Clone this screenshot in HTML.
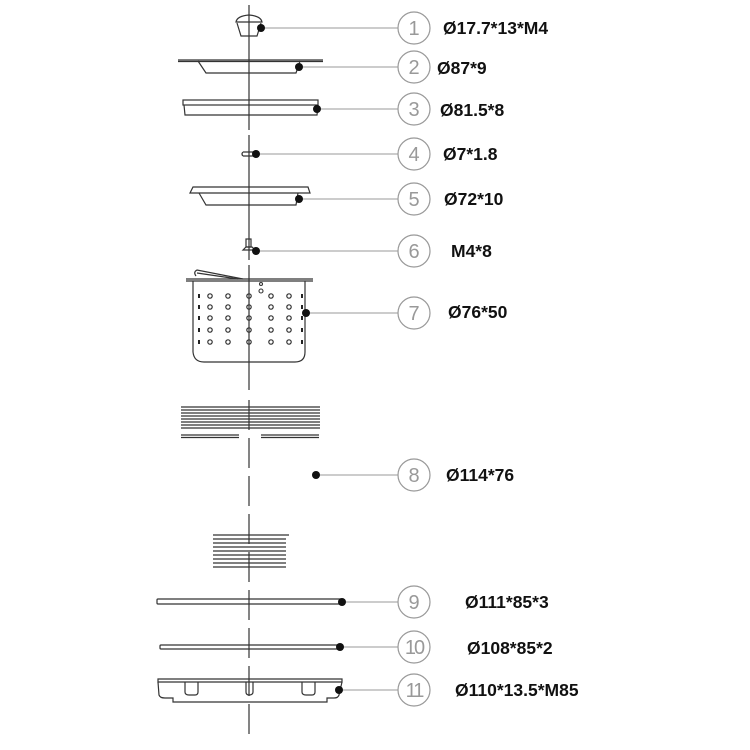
<!DOCTYPE html>
<html><head><meta charset="utf-8"><style>
html,body{margin:0;padding:0;background:#fff;}
svg{display:block;}
text{font-family:"Liberation Sans",Arial,sans-serif;font-weight:bold;font-size:17.5px;fill:#111;}
.n{font-family:"Liberation Sans",sans-serif;font-weight:normal;font-size:20px;fill:#999;}
</style></head><body>
<svg width="750" height="750" viewBox="0 0 750 750" xmlns="http://www.w3.org/2000/svg">
<g stroke="#333" stroke-width="1.2" fill="none">
<!-- center line -->
<line x1="249" y1="5" x2="249" y2="392" stroke-dasharray="125,5"/>
<line x1="249" y1="400" x2="249" y2="740" stroke-dasharray="30,8"/>
<!-- 1 -->
<path d="M236,22 Q237,16 249,15 Q261,16 262,22 Z"/>
<path d="M237,23 L241,36 L257,36 L261,23"/>
<!-- 2 -->
<line x1="178" y1="60" x2="323" y2="60"/>
<line x1="178" y1="61.5" x2="323" y2="61.5"/>
<path d="M198,61 L206,73 L296,73 L300,61"/>
<!-- 3 -->
<rect x="183" y="100" width="135" height="5"/>
<path d="M184,105 L185,115 L317,115 L318,105"/>
<!-- 4 -->
<path d="M243,152 L255,152 M243,156 L255,156 M243,152 Q241,154 243,156"/>
<!-- 5 -->
<path d="M190,193 L193,187 L308,187 L310,193 Z"/>
<path d="M199,193 L206,205 L296,205 L298,193"/>
<!-- 6 -->
<rect x="246" y="239" width="5" height="8"/>
<path d="M243,250 L246,247 L252,247 L255,250 Z"/>
<!-- 7 -->
<path d="M196,276 Q193,272 197,270 L243,279" />
<path d="M197,273 L238,279"/>
<line x1="186" y1="279" x2="313" y2="279"/>
<line x1="186" y1="281" x2="313" y2="281"/>
<path d="M193,281 L193,352 Q194,362 204,362 L295,362 Q305,362 305,352 L305,281"/>
<!-- 8 lines -->
<path d="M181,407H320M181,410H320M181,413H320M181,416H320M181,419H320M181,422H320M181,425H320M181,428H320M181,435H239M261,435H319M181,437.5H239M261,437.5H319"/>
<path d="M213,535H289M213,539H286M213,543H286M213,547H286M213,551H286M213,555H286M213,559H286M213,563H286M213,567H286"/>
<!-- 9 -->
<rect x="157" y="599" width="185" height="5" rx="1"/>
<!-- 10 -->
<rect x="160" y="645" width="180" height="4" rx="1"/>
<!-- 11 -->
<path d="M158,682 L158,679 L342,679 L342,682 Z"/>
<path d="M158,682 L159,695 Q160,698 165,698 L173,698 L173,702 L327,702 L327,698 L334,698 Q338,698 339,695 L342,682"/>
<path d="M185,682 L185,692 Q185,695 189,695 L195,695 Q198,695 198,692 L198,682"/>
<path d="M246,682 L246,692 Q246,695 249,695 Q253,695 253,692 L253,682"/>
<path d="M302,682 L302,692 Q302,695 306,695 L312,695 Q315,695 315,692 L315,682"/>
</g>
<!-- holes -->
<g stroke="#333" stroke-width="1.1" fill="none">
<circle cx="261" cy="284" r="1.5"/><circle cx="261" cy="291" r="2"/>
</g>
<g stroke="#333" stroke-width="1.2" fill="none">
<g transform="translate(0,296)"><circle cx="210" cy="0" r="2.2"/><circle cx="228" cy="0" r="2.2"/><circle cx="249" cy="0" r="2.2"/><circle cx="271" cy="0" r="2.2"/><circle cx="289" cy="0" r="2.2"/></g>
<g transform="translate(0,307)"><circle cx="210" cy="0" r="2.2"/><circle cx="228" cy="0" r="2.2"/><circle cx="249" cy="0" r="2.2"/><circle cx="271" cy="0" r="2.2"/><circle cx="289" cy="0" r="2.2"/></g>
<g transform="translate(0,318)"><circle cx="210" cy="0" r="2.2"/><circle cx="228" cy="0" r="2.2"/><circle cx="249" cy="0" r="2.2"/><circle cx="271" cy="0" r="2.2"/><circle cx="289" cy="0" r="2.2"/></g>
<g transform="translate(0,330)"><circle cx="210" cy="0" r="2.2"/><circle cx="228" cy="0" r="2.2"/><circle cx="249" cy="0" r="2.2"/><circle cx="271" cy="0" r="2.2"/><circle cx="289" cy="0" r="2.2"/></g>
<g transform="translate(0,342)"><circle cx="210" cy="0" r="2.2"/><circle cx="228" cy="0" r="2.2"/><circle cx="249" cy="0" r="2.2"/><circle cx="271" cy="0" r="2.2"/><circle cx="289" cy="0" r="2.2"/></g>
</g>
<g fill="#222">
<rect x="198" y="294" width="2" height="4"/><rect x="198" y="305" width="2" height="4"/><rect x="198" y="316" width="2" height="4"/><rect x="198" y="328" width="2" height="4"/><rect x="198" y="340" width="2" height="4"/>
<rect x="301" y="294" width="2" height="4"/><rect x="301" y="305" width="2" height="4"/><rect x="301" y="316" width="2" height="4"/><rect x="301" y="328" width="2" height="4"/><rect x="301" y="340" width="2" height="4"/>
</g>
<!-- leaders -->
<g stroke="#999" stroke-width="1">
<line x1="261" y1="28" x2="398" y2="28"/>
<line x1="299" y1="67" x2="398" y2="67"/>
<line x1="317" y1="109" x2="398" y2="109"/>
<line x1="256" y1="154" x2="398" y2="154"/>
<line x1="299" y1="199" x2="398" y2="199"/>
<line x1="256" y1="251" x2="398" y2="251"/>
<line x1="306" y1="313" x2="398" y2="313"/>
<line x1="316" y1="475" x2="398" y2="475"/>
<line x1="342" y1="602" x2="398" y2="602"/>
<line x1="340" y1="647" x2="398" y2="647"/>
<line x1="339" y1="690" x2="398" y2="690"/>
</g>
<g fill="#111">
<circle cx="261" cy="28" r="4"/><circle cx="299" cy="67" r="4"/><circle cx="317" cy="109" r="4"/><circle cx="256" cy="154" r="4"/><circle cx="299" cy="199" r="4"/><circle cx="256" cy="251" r="4"/><circle cx="306" cy="313" r="4"/><circle cx="316" cy="475" r="4"/><circle cx="342" cy="602" r="4"/><circle cx="340" cy="647" r="4"/><circle cx="339" cy="690" r="4"/>
</g>
<g stroke="#999" stroke-width="1.2" fill="#fff">
<circle cx="414" cy="28" r="16"/><circle cx="414" cy="67" r="16"/><circle cx="414" cy="109" r="16"/><circle cx="414" cy="154" r="16"/><circle cx="414" cy="199" r="16"/><circle cx="414" cy="251" r="16"/><circle cx="414" cy="313" r="16"/><circle cx="414" cy="475" r="16"/><circle cx="414" cy="602" r="16"/><circle cx="414" cy="647" r="16"/><circle cx="414" cy="690" r="16"/>
</g>
<text class="n" x="414" y="35" text-anchor="middle">1</text>
<text class="n" x="414" y="74" text-anchor="middle">2</text>
<text class="n" x="414" y="116" text-anchor="middle">3</text>
<text class="n" x="414" y="161" text-anchor="middle">4</text>
<text class="n" x="414" y="206" text-anchor="middle">5</text>
<text class="n" x="414" y="258" text-anchor="middle">6</text>
<text class="n" x="414" y="320" text-anchor="middle">7</text>
<text class="n" x="414" y="482" text-anchor="middle">8</text>
<text class="n" x="414" y="609" text-anchor="middle">9</text>
<text class="n" x="414" y="654" text-anchor="middle" letter-spacing="-2">10</text>
<text class="n" x="414" y="697" text-anchor="middle" letter-spacing="-2">11</text>
<text x="443" y="34">Ø17.7*13*M4</text>
<text x="437" y="74">Ø87*9</text>
<text x="440" y="116">Ø81.5*8</text>
<text x="443" y="160">Ø7*1.8</text>
<text x="444" y="205">Ø72*10</text>
<text x="451" y="257">M4*8</text>
<text x="448" y="318">Ø76*50</text>
<text x="446" y="481">Ø114*76</text>
<text x="465" y="608">Ø111*85*3</text>
<text x="467" y="654">Ø108*85*2</text>
<text x="455" y="696">Ø110*13.5*M85</text>
</svg>
</body></html>
